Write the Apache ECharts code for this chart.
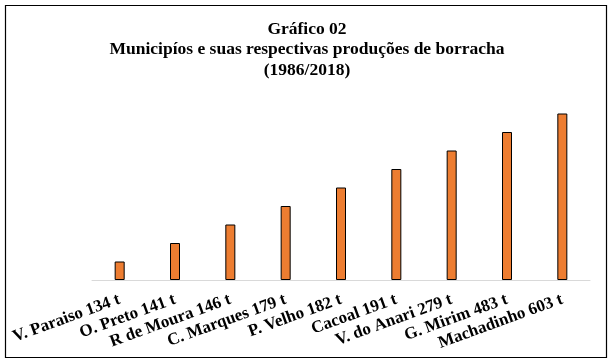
<!DOCTYPE html>
<html>
<head>
<meta charset="utf-8">
<script src="https://cdn.jsdelivr.net/npm/echarts@6/dist/echarts.min.js"></script>
<style>
html,body{margin:0;padding:0;background:#fff;}
#chart{width:614px;height:363px;}
</style>
</head>
<body>
<div id="chart"></div>
<script>
var titleLines = ['Gráfico 02', 'Municipíos e suas respectivas produções de borracha', '(1986/2018)'];
var categories = ['V. Paraiso 134 t', 'O. Preto 141 t', 'R de Moura 146 t', 'C. Marques 179 t', 'P. Velho 182 t', 'Cacoal 191 t', 'V. do Anari 279 t', 'G. Mirim 483 t', 'Machadinho 603 t'];
var values = [1, 2, 3, 4, 5, 6, 7, 8, 9];

var chart = echarts.init(document.getElementById('chart'), null, {renderer: 'canvas'});
chart.setOption({
  animation: false,
  backgroundColor: '#ffffff',
  title: {
    text: titleLines.join('\n'),
    left: 'center',
    top: 14,
    textStyle: {
      fontFamily: 'Liberation Serif',
      fontWeight: 'bold',
      fontSize: 17.5,
      lineHeight: 20.5,
      color: '#000'
    }
  },
  graphic: [{
    type: 'rect',
    shape: {x: 5.5, y: 5.5, width: 601, height: 352},
    style: {fill: 'none', stroke: '#000', lineWidth: 1.2},
    silent: true
  }],
  grid: {left: 92, right: 24, top: 95, bottom: 83, containLabel: false},
  xAxis: {
    type: 'category',
    data: categories,
    axisLine: {lineStyle: {color: '#d9d9d9', width: 1}},
    axisTick: {show: false},
    axisLabel: {
      interval: 0,
      rotate: 20,
      margin: 19,
      fontFamily: 'Liberation Serif',
      fontWeight: 'bold',
      fontSize: 17,
      color: '#000'
    }
  },
  yAxis: {
    type: 'value',
    min: 0,
    max: 10,
    show: false,
    splitLine: {show: false}
  },
  series: [{
    type: 'bar',
    data: values,
    barWidth: 10,
    itemStyle: {color: '#ED7D31', borderColor: '#000', borderWidth: 1}
  }]
});
</script>
</body>
</html>
